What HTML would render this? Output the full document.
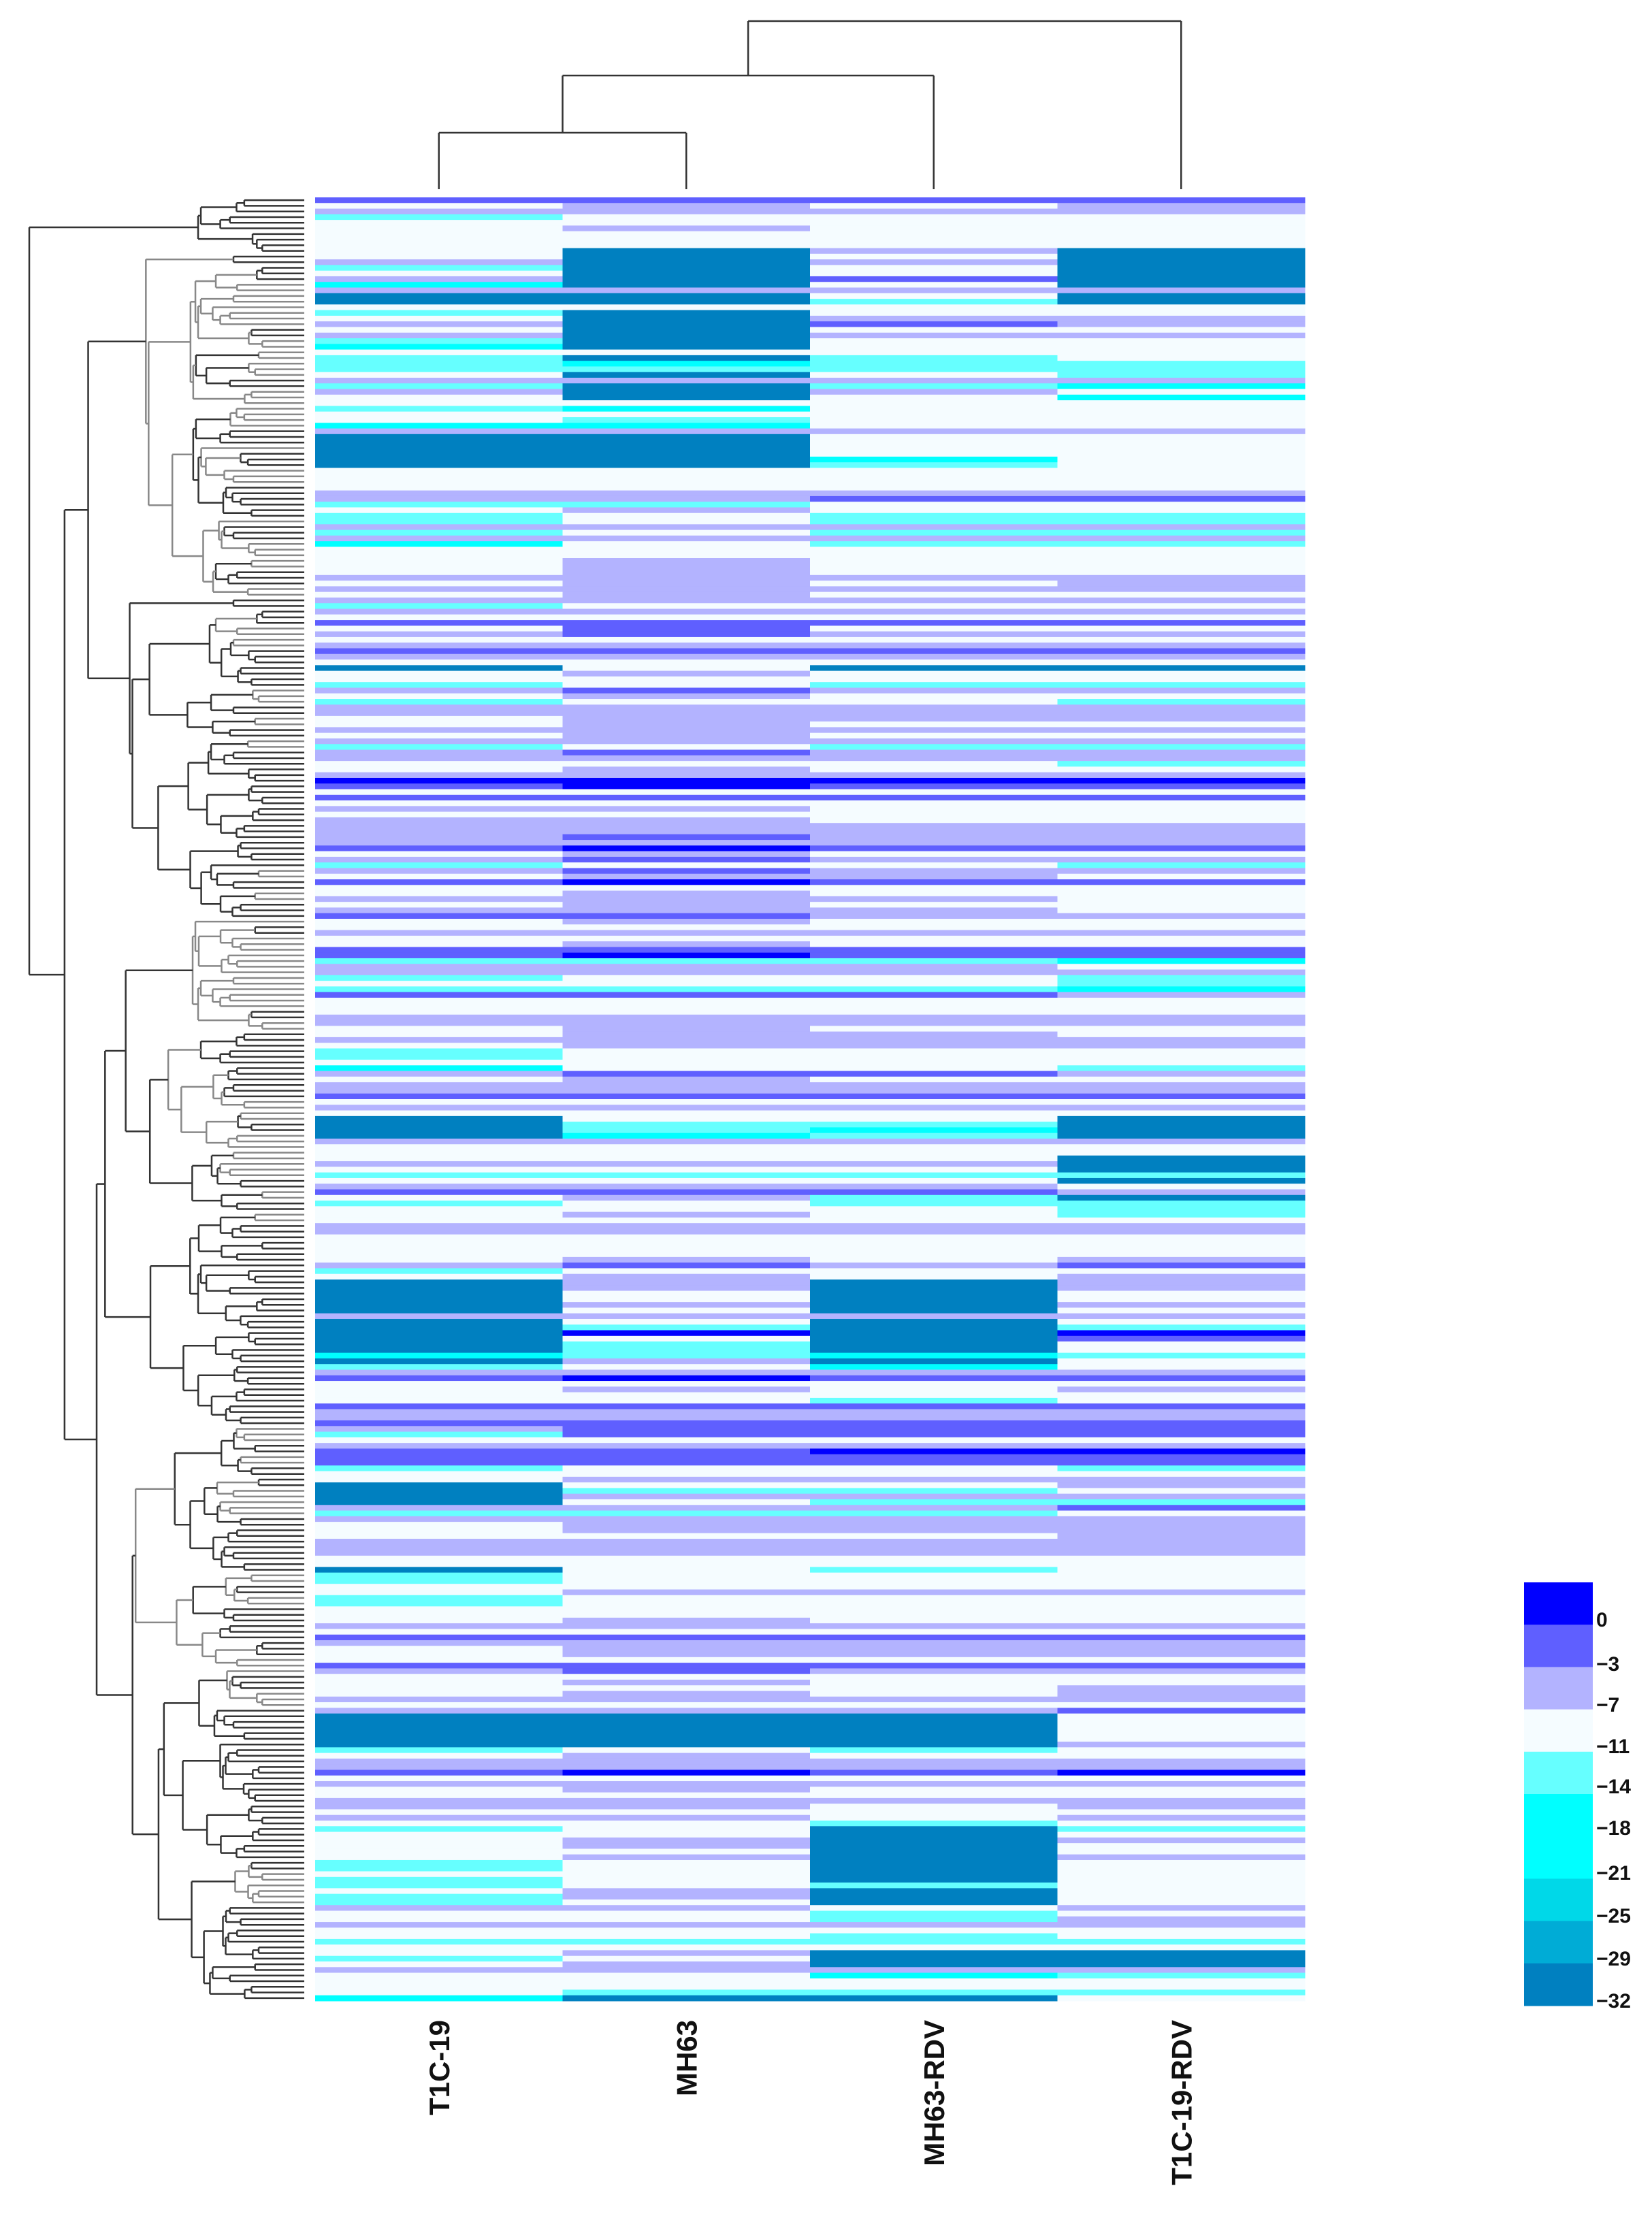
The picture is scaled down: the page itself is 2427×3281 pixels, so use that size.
<!DOCTYPE html>
<html><head><meta charset="utf-8">
<style>
html,body{margin:0;padding:0;background:#fff;}
svg{display:block;}
text{font-family:"Liberation Sans",Arial,sans-serif;font-weight:bold;fill:#111;}
</style></head>
<body>
<svg id="chart" width="2427" height="3281" viewBox="0 0 2427 3281" xmlns="http://www.w3.org/2000/svg">
<g id="dendro-left"></g>
<g id="dendro-top"></g>
<g id="cells"></g>
<g id="collabels"></g>
<g id="legend"></g>
</svg>
<script>
const columns = ["T1C-19","MH63","MH63-RDV","T1C-19-RDV"];
const colT1C19 = [-3,-11,-7,-14,-11,-11,-11,-11,-11,-11,-11,-7,-14,-11,-7,-20,-7,-32,-32,-11,-14,-11,-7,-11,-7,-14,-20,-11,-14,-14,-14,-11,-7,-14,-7,-11,-11,-14,-11,-11,-20,-7,-32,-32,-32,-32,-32,-32,-11,-11,-11,-11,-7,-7,-14,-11,-14,-14,-7,-14,-7,-20,-11,-11,-11,-11,-11,-7,-11,-7,-11,-7,-14,-7,-11,-3,-11,-7,-11,-7,-3,-7,-11,-32,-11,-11,-14,-7,-11,-14,-7,-7,-11,-11,-7,-11,-7,-14,-7,-7,-11,-11,-7,0,-3,-11,-3,-11,-7,-11,-7,-7,-7,-7,-7,-3,-11,-7,-14,-7,-11,-3,-11,-11,-7,-11,-7,-3,-11,-11,-7,-11,-11,-3,-3,-14,-7,-7,-14,-11,-14,-3,-11,-11,-11,-7,-7,-11,-11,-7,-11,-14,-14,-11,-20,-7,-11,-7,-7,-3,-11,-7,-11,-32,-32,-32,-32,-7,-11,-11,-11,-7,-11,-14,-11,-7,-3,-11,-14,-11,-11,-11,-7,-7,-11,-11,-11,-11,-11,-7,-14,-11,-32,-32,-32,-32,-32,-32,-7,-32,-32,-32,-32,-32,-32,-20,-32,-14,-7,-3,-11,-11,-11,-11,-3,-7,-7,-3,-7,-14,-11,-7,-3,-3,-3,-14,-11,-11,-32,-32,-32,-32,-7,-14,-7,-11,-11,-11,-7,-7,-7,-11,-11,-32,-14,-14,-11,-11,-14,-14,-11,-11,-11,-7,-11,-3,-7,-11,-11,-11,-3,-7,-11,-11,-11,-11,-7,-11,-7,-32,-32,-32,-32,-32,-32,-14,-11,-7,-7,-3,-11,-7,-11,-11,-7,-7,-11,-7,-11,-14,-11,-11,-11,-11,-11,-14,-14,-11,-14,-14,-11,-14,-14,-7,-11,-11,-7,-11,-11,-14,-11,-11,-14,-11,-7,-11,-11,-11,-11,-20];
const colMH63 = [-3,-7,-7,-11,-11,-7,-11,-11,-11,-32,-32,-32,-32,-32,-32,-32,-7,-32,-32,-11,-32,-32,-32,-32,-32,-32,-32,-11,-32,-20,-14,-32,-7,-32,-32,-32,-11,-20,-11,-14,-20,-7,-32,-32,-32,-32,-32,-32,-11,-11,-11,-11,-7,-7,-14,-7,-11,-11,-7,-11,-7,-11,-11,-11,-7,-7,-7,-7,-7,-7,-7,-7,-11,-7,-11,-3,-3,-3,-11,-7,-3,-7,-11,-11,-7,-11,-11,-3,-7,-11,-7,-7,-7,-7,-7,-7,-7,-11,-3,-7,-11,-7,-7,0,0,-11,-3,-11,-7,-11,-7,-7,-7,-3,-7,0,-7,-3,-11,-3,-7,0,-11,-7,-7,-7,-7,-3,-7,-11,-7,-11,-7,-3,0,-14,-7,-7,-11,-11,-14,-3,-11,-11,-11,-7,-7,-7,-7,-7,-7,-11,-11,-11,-11,-3,-7,-7,-7,-3,-11,-7,-11,-11,-14,-14,-20,-7,-11,-11,-11,-7,-11,-14,-11,-7,-3,-7,-11,-11,-7,-11,-7,-7,-11,-11,-11,-11,-7,-3,-11,-7,-7,-7,-11,-11,-7,-11,-7,-11,-14,0,-11,-14,-14,-14,-7,-11,-7,0,-11,-7,-11,-11,-3,-7,-7,-3,-3,-3,-11,-7,-3,-3,-3,-11,-11,-7,-11,-14,-7,-11,-7,-14,-7,-7,-7,-11,-7,-7,-7,-11,-11,-11,-11,-11,-11,-7,-11,-11,-11,-11,-7,-7,-11,-3,-7,-7,-7,-11,-3,-3,-11,-7,-11,-7,-7,-11,-7,-32,-32,-32,-32,-32,-32,-11,-7,-7,-7,0,-11,-7,-7,-11,-7,-7,-11,-7,-11,-11,-11,-7,-7,-11,-7,-11,-11,-11,-11,-11,-7,-7,-11,-7,-11,-11,-7,-11,-11,-14,-11,-7,-11,-7,-7,-11,-11,-11,-14,-32];
const colMH63RDV = [-3,-11,-7,-11,-11,-11,-11,-11,-11,-7,-11,-7,-11,-11,-3,-11,-7,-11,-14,-11,-11,-7,-3,-11,-7,-11,-11,-11,-14,-14,-14,-11,-7,-14,-7,-11,-11,-11,-11,-11,-11,-7,-11,-11,-11,-11,-20,-14,-11,-11,-11,-11,-7,-3,-11,-11,-14,-14,-7,-14,-7,-14,-11,-11,-11,-11,-11,-7,-11,-7,-11,-7,-11,-7,-11,-3,-11,-7,-11,-7,-3,-7,-11,-32,-11,-11,-14,-7,-11,-11,-7,-7,-7,-11,-7,-11,-7,-14,-7,-7,-11,-11,-7,0,-3,-11,-3,-11,-11,-11,-11,-7,-7,-7,-7,-3,-11,-7,-11,-7,-7,-3,-11,-11,-7,-11,-7,-7,-11,-11,-7,-11,-11,-3,-3,-14,-7,-7,-11,-11,-14,-3,-11,-11,-11,-7,-7,-11,-7,-7,-7,-11,-11,-11,-11,-3,-11,-7,-7,-3,-11,-7,-11,-11,-14,-20,-14,-7,-11,-11,-11,-7,-11,-14,-11,-7,-3,-14,-14,-11,-11,-11,-7,-7,-11,-11,-11,-11,-11,-7,-11,-11,-32,-32,-32,-32,-32,-32,-7,-32,-32,-32,-32,-32,-32,-20,-32,-20,-7,-3,-11,-11,-11,-14,-3,-7,-7,-3,-3,-3,-11,-7,0,-3,-3,-11,-11,-7,-11,-14,-7,-14,-7,-14,-7,-7,-7,-11,-7,-7,-7,-11,-11,-14,-11,-11,-11,-7,-11,-11,-11,-11,-11,-7,-11,-3,-7,-7,-7,-11,-3,-7,-11,-11,-11,-11,-7,-11,-7,-32,-32,-32,-32,-32,-32,-14,-11,-7,-7,-3,-11,-7,-11,-11,-7,-11,-11,-11,-14,-32,-32,-32,-32,-32,-32,-32,-32,-32,-32,-14,-32,-32,-32,-11,-14,-14,-7,-11,-14,-14,-11,-32,-32,-32,-7,-20,-11,-11,-14,-32];
const colT1C19RDV = [-3,-7,-7,-11,-11,-11,-11,-11,-11,-32,-32,-32,-32,-32,-32,-32,-7,-32,-32,-11,-11,-7,-7,-11,-7,-11,-11,-11,-11,-14,-14,-14,-7,-20,-11,-20,-11,-11,-11,-11,-11,-7,-11,-11,-11,-11,-11,-11,-11,-11,-11,-11,-7,-3,-11,-11,-14,-14,-7,-14,-7,-14,-11,-11,-11,-11,-11,-7,-7,-7,-11,-7,-11,-7,-11,-3,-11,-7,-11,-7,-3,-7,-11,-32,-11,-11,-14,-7,-11,-14,-7,-7,-7,-11,-7,-11,-7,-14,-7,-7,-14,-11,-7,0,-3,-11,-3,-11,-11,-11,-11,-7,-7,-7,-7,-3,-11,-7,-14,-7,-11,-3,-11,-11,-11,-11,-11,-7,-11,-11,-7,-11,-11,-3,-3,-20,-11,-7,-14,-14,-20,-7,-11,-11,-11,-7,-7,-11,-11,-7,-7,-11,-11,-11,-14,-7,-11,-7,-7,-3,-11,-7,-11,-32,-32,-32,-32,-7,-11,-11,-32,-32,-32,-14,-32,-11,-7,-32,-14,-14,-14,-11,-7,-7,-11,-11,-11,-11,-7,-3,-11,-7,-7,-7,-11,-11,-7,-11,-7,-11,-14,0,-3,-11,-11,-14,-11,-11,-7,-3,-11,-7,-11,-11,-3,-7,-7,-3,-3,-3,-11,-7,0,-3,-3,-14,-11,-7,-7,-11,-7,-14,-3,-11,-7,-7,-7,-7,-7,-7,-7,-11,-11,-11,-11,-11,-11,-7,-11,-11,-11,-11,-11,-7,-11,-3,-7,-7,-7,-11,-3,-7,-11,-11,-7,-7,-7,-11,-3,-11,-11,-11,-11,-11,-7,-11,-11,-7,-7,0,-11,-7,-11,-11,-7,-7,-11,-7,-11,-14,-11,-7,-11,-11,-7,-11,-11,-11,-11,-11,-11,-11,-11,-7,-11,-7,-7,-11,-11,-14,-11,-32,-32,-32,-7,-14,-11,-11,-14,-11];
const legendTicks = [0,-3,-7,-11,-14,-18,-21,-25,-29,-32];
const legendColors = ["#0000FF","#5F5FFF","#B3B3FF","#F5FCFF","#66FFFF","#00FFFF","#00FFFF","#00D8E8","#00ACD6","#0080C0"];

const NS = "http://www.w3.org/2000/svg";
const series = [colT1C19, colMH63, colMH63RDV, colT1C19RDV];
const nRows = colT1C19.length;
const HX0 = 463, HX1 = 1917, HY0 = 290, HY1 = 2940;
const cw = (HX1 - HX0) / columns.length;
const rh = (HY1 - HY0) / nRows;
function xCol(j){ return HX0 + j * cw; }
function yRow(i){ return HY0 + i * rh; }
function colorOf(v){
  if (v > -1.5) return "#0000FF";
  if (v > -5) return "#5F5FFF";
  if (v > -9) return "#B3B3FF";
  if (v > -12.5) return "#F5FCFF";
  if (v > -16) return "#66FFFF";
  if (v > -23) return "#00FFFF";
  if (v > -27) return "#00D8E8";
  if (v > -30.5) return "#00ACD6";
  return "#0080C0";
}
function mk(tag, attrs, parent){
  const e = document.createElementNS(NS, tag);
  for (const k in attrs) e.setAttribute(k, attrs[k]);
  parent.appendChild(e);
  return e;
}
const cells = document.getElementById("cells");
mk("rect",{x:HX0,y:HY0,width:HX1-HX0,height:HY1-HY0,fill:"#F5FCFF"},cells);
for (let j = 0; j < series.length; j++){
  for (let i = 0; i < series[j].length; i++){
    const r = mk("rect",{x:xCol(j).toFixed(2),y:yRow(i).toFixed(2),width:(cw+0.5).toFixed(2),height:(rh+0.5).toFixed(2),fill:colorOf(series[j][i])},cells);
    
    
  }
}
const cl = document.getElementById("collabels");
for (let j = 0; j < columns.length; j++){
  const cx = xCol(j) + cw/2 + 15;
  const t = mk("text",{x:cx,y:2968,"font-size":42,"text-anchor":"end",transform:"rotate(-90 " + cx + " 2968)"},cl);
  t.textContent = columns[j];
  
  
}
const dt = document.getElementById("dendro-top");
function tl(x1,y1,x2,y2,par,col){ mk("line",{x1:x1,y1:y1,x2:x2,y2:y2,stroke:col||"#333","stroke-width":2.5},par); }
const cxs = columns.map((c,j)=>xCol(j)+cw/2);
const yAB = 195, yABC = 111, yRoot = 31, yLeaf = 278;
tl(cxs[0],yLeaf,cxs[0],yAB,dt); tl(cxs[1],yLeaf,cxs[1],yAB,dt); tl(cxs[0],yAB,cxs[1],yAB,dt);
const mAB = (cxs[0]+cxs[1])/2;
tl(mAB,yAB,mAB,yABC,dt); tl(cxs[2],yLeaf,cxs[2],yABC,dt); tl(mAB,yABC,cxs[2],yABC,dt);
const mABC = (mAB+cxs[2])/2;
tl(mABC,yABC,mABC,yRoot,dt); tl(cxs[3],yLeaf,cxs[3],yRoot,dt); tl(mABC,yRoot,cxs[3],yRoot,dt);
const dl = document.getElementById("dendro-left");
const splits = [0.03,0.55,0.42,0.6,0.35,0.5,0.66,0.3,0.47,0.58,0.38,0.52];
let sc = 0;
function build(lo, hi){
  const yc = yRow(lo) + rh/2;
  if (hi - lo === 1) return {x:447, y:yc};
  let f = splits[sc++ % splits.length];
  let m = lo + Math.max(1, Math.min(hi-lo-1, Math.round((hi-lo)*f)));
  const a = build(lo, m), b = build(m, hi);
  const size = hi - lo;
  const jitter = 0.7 + 0.6*((sc*37)%10)/10;
  let x = 447 - 404 * Math.pow(size/nRows, 0.3) * (size===nRows?1:jitter);
  x = Math.max(43, Math.min(x, Math.min(a.x, b.x) - 4));
  const col = (sc % 3 === 0) ? "#888" : "#333";
  tl(x, a.y, x, b.y, dl, col);
  tl(x, a.y, a.x, a.y, dl, col);
  tl(x, b.y, b.x, b.y, dl, col);
  return {x:x, y:(a.y+b.y)/2};
}
build(0, nRows);
const lg = document.getElementById("legend");
const LY0 = 2325, LY1 = 2947, LX = 2239, LW = 101;
const bh = (LY1 - LY0) / legendColors.length;
for (let k = 0; k < legendColors.length; k++){
  const r = mk("rect",{x:LX,y:(LY0+k*bh).toFixed(2),width:LW,height:(bh+0.5).toFixed(2),fill:legendColors[k]},lg);
  
  
}
const labelY = [2390,2455,2515,2576,2635,2696,2762,2825,2888,2950];
for (let k = 0; k < legendTicks.length; k++){
  const v = legendTicks[k];
  const t = mk("text",{x:2345,y:labelY[k],"font-size":30},lg);
  t.textContent = v === 0 ? "0" : "\u2212" + Math.abs(v);
  
  
}
</script>
</body></html>
